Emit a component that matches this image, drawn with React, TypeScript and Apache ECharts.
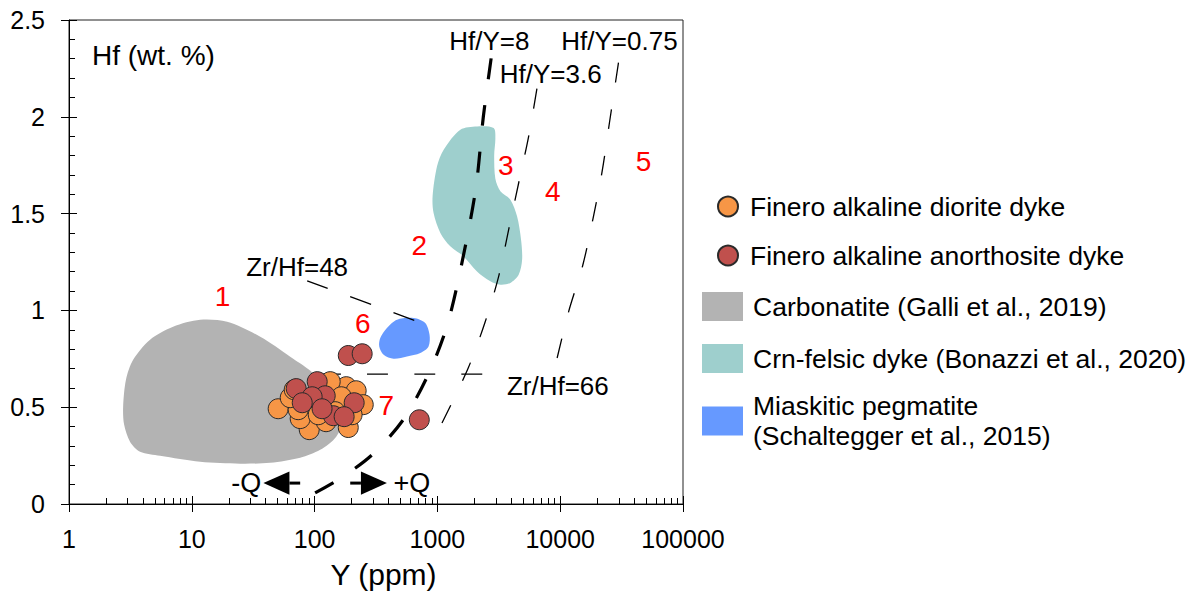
import { useEffect, useRef } from 'react';
import * as echarts from 'echarts';

const FONT = '"Liberation Sans", Arial, Helvetica, sans-serif';

// Axis tick labels
const xTickLabels = ['1', '10', '100', '1000', '10000', '100000'];
const yTickLabels = ['0', '0.5', '1', '1.5', '2', '2.5'];

// Series names
const DIORITE = 'Finero alkaline diorite dyke';
const ANORTH = 'Finero alkaline anorthosite dyke';
const CARB = 'Carbonatite (Galli et al., 2019)';
const CRN = 'Crn-felsic dyke (Bonazzi et al., 2020)';
const MIAS = 'Miaskitic pegmatite (Schaltegger et al., 2015)';

// Samples: [Y ppm, Hf wt.%]
const dioriteDyke: number[][] = [
  [50.5, 0.492], [90.4, 0.384], [188, 0.395], [181, 0.606], [218, 0.585],
  [249, 0.513], [134, 0.632], [165, 0.554], [124, 0.425], [76.3, 0.441],
  [73.5, 0.487], [63.3, 0.549], [107, 0.461], [147, 0.477], [202, 0.461],
  [83.8, 0.539], [68.2, 0.59],
];
const anorthositeDyke: number[][] = [
  [105, 0.632], [70.8, 0.596], [122, 0.559], [95.5, 0.554], [79.3, 0.523],
  [210, 0.523], [142, 0.456], [174, 0.451], [115, 0.492], [188, 0.767],
  [244, 0.776], [712, 0.435],
];

// Field outlines: [Y ppm, Hf wt.%]
const carbonatiteOutline: number[][] = [
  [2.76, 0.503], [2.91, 0.642], [3.33, 0.745], [4.57, 0.849], [7.04, 0.916],
  [11.7, 0.952], [19.4, 0.941], [36.1, 0.864], [63.3, 0.761], [101, 0.668],
  [147, 0.539], [168, 0.435], [150, 0.348], [111, 0.28], [76.3, 0.239],
  [43.5, 0.213], [24.8, 0.208], [11.7, 0.218], [5.52, 0.249], [3.79, 0.27],
  [3.14, 0.322], [2.81, 0.41],
];
const crnFelsicOutline: number[][] = [
  [1538, 1.933], [2102, 1.95], [2872, 1.942], [2965, 1.89], [2900, 1.8],
  [2965, 1.68], [3258, 1.615], [3928, 1.572], [4453, 1.486], [4800, 1.365],
  [4895, 1.261], [4590, 1.184], [3928, 1.142], [3258, 1.133], [2700, 1.15],
  [2102, 1.201], [1633, 1.279], [1273, 1.331], [1057, 1.4], [931, 1.503],
  [914, 1.589], [993, 1.744], [1125, 1.83],
];
const pegmatiteOutline: number[][] = [
  [342.5, 0.857], [388, 0.909], [469, 0.952], [640, 0.961], [796, 0.935],
  [863, 0.874], [847, 0.814], [726, 0.78], [565, 0.762], [440, 0.75],
  [365, 0.771], [336, 0.814],
];

// Reference lines
const hfY8: number[][] = [
  [101, 0.057], [160, 0.13], [295, 0.255], [527, 0.435], [827, 0.658], [1160, 0.892],
  [1452, 1.133], [2037, 1.613], [2366, 2.0], [2750, 2.31],
];
const hfY36: number[][] = [
  [1090, 0.418], [1786, 0.704], [2455, 0.943], [3155, 1.176], [3805, 1.417],
  [4590, 1.658], [5535, 1.899], [6480, 2.15],
];
const hfY075: number[][] = [
  [9440, 0.754], [11730, 0.995], [15250, 1.232], [18540, 1.477], [21950, 1.718],
  [25160, 1.968], [30360, 2.312],
];
const zrHf48: number[][] = [[87, 1.153], [725, 0.937]];
const zrHf66: number[][] = [[111, 0.671], [2455, 0.671]];

// Annotations
const lineLabelText = ['Hf/Y=8', 'Hf/Y=3.6', 'Hf/Y=0.75', 'Zr/Hf=48', 'Zr/Hf=66'];
const lineLabelAt: number[][] = [[2649, 2.393], [8370, 2.223], [30360, 2.393], [72.1, 1.223], [9570, 0.611]];
const qLabelText = ['-Q', '+Q'];
const qLabelAt: number[][] = [[27.7, 0.108], [621, 0.108]];
const fieldNumbers = ['1', '2', '3', '4', '5', '6', '7'];
const fieldNumberAt: number[][] = [
  [17.8, 1.072], [712, 1.334], [3606, 1.747], [8720, 1.615], [47650, 1.77], [247, 0.931], [383, 0.508],
];
const arrowTips: number[][] = [[38.3, 0.108], [388, 0.108]];
const arrowTails: number[][] = [[76.3, 0.108], [195, 0.108]];

const COLORS = {
  diorite: '#f79646',
  anorth: '#c0504d',
  carb: '#b3b3b3',
  crn: '#9ecfcd',
  mias: '#6699ff',
};

function polygonSeries(name: string, outline: number[][], color: string) {
  return {
    type: 'custom',
    name,
    coordinateSystem: 'cartesian2d',
    xAxisIndex: 0,
    yAxisIndex: 0,
    data: [outline[0]],
    itemStyle: { color },
    silent: true,
    z: 1,
    renderItem: (_params: any, api: any) => ({
      type: 'polygon',
      shape: { points: outline.map((p) => api.coord(p)), smooth: 0.3 },
      style: { fill: color, stroke: 'none' },
    }),
  };
}

function refLine(data: number[][], width: number, dash: number[]) {
  return {
    type: 'line',
    data,
    xAxisIndex: 0,
    yAxisIndex: 0,
    showSymbol: false,
    symbol: 'none',
    smooth: 0.3,
    silent: true,
    z: 2,
    lineStyle: { color: '#000', width, type: dash },
  };
}

function textSeries(texts: string[], at: number[][], size: number, color: string) {
  return {
    type: 'custom',
    coordinateSystem: 'cartesian2d',
    xAxisIndex: 0,
    yAxisIndex: 0,
    data: at,
    silent: true,
    z: 6,
    renderItem: (params: any, api: any) => {
      const p = api.coord([api.value(0), api.value(1)]);
      return {
        type: 'text',
        x: p[0],
        y: p[1],
        style: {
          text: texts[params.dataIndex],
          fill: color,
          fontSize: size,
          fontFamily: FONT,
          align: 'center',
          verticalAlign: 'middle',
        },
      };
    },
  };
}

const xAxisBase = {
  type: 'log',
  logBase: 10,
  min: 1,
  max: 100000,
  gridIndex: 0,
  position: 'bottom',
  offset: 0,
  splitLine: { show: false },
  minorSplitLine: { show: false },
};
const yAxisBase = {
  type: 'value',
  min: 0,
  max: 2.5,
  interval: 0.5,
  gridIndex: 0,
  position: 'left',
  offset: 0,
  splitLine: { show: false },
  minorSplitLine: { show: false },
};

export default function App() {
  const ref = useRef<HTMLDivElement>(null);
  useEffect(() => {
    if (!ref.current) return;
    const chart = echarts.init(ref.current, null, { renderer: 'svg' });
    const legendText = { fontSize: 26.5, color: '#000', fontFamily: FONT };
    chart.setOption({
      animation: false,
      backgroundColor: '#fff',
      grid: {
        left: 69,
        right: 511,
        top: 20,
        bottom: 89,
        show: true,
        borderColor: '#222',
        borderWidth: 1,
        backgroundColor: 'transparent',
        containLabel: false,
        outerBoundsMode: 'none',
      },
      xAxis: [
        {
          ...xAxisBase,
          name: 'Y (ppm)',
          nameLocation: 'middle',
          nameGap: 55,
          nameTextStyle: { fontSize: 30, color: '#000', fontFamily: FONT, padding: [0, 0, 0, 15] },
          axisLine: { show: true, lineStyle: { color: '#000', width: 1 } },
          axisTick: { show: true, inside: false, length: 8, lineStyle: { color: '#000', width: 1 } },
          axisLabel: {
            show: true,
            fontSize: 25,
            color: '#000',
            fontFamily: FONT,
            margin: 22,
            formatter: (v: number) => xTickLabels[Math.round(Math.log10(v))] ?? '',
          },
        },
        {
          ...xAxisBase,
          axisLine: { show: false },
          axisLabel: { show: false },
          axisTick: { show: true, inside: true, length: 8, lineStyle: { color: '#000', width: 1 } },
          minorTick: { show: true, splitNumber: 9, length: 6, lineStyle: { color: '#000', width: 1 } },
        },
      ],
      yAxis: [
        {
          ...yAxisBase,
          name: 'Hf (wt. %)',
          nameLocation: 'end',
          nameGap: -35,
          nameTextStyle: {
            fontSize: 28,
            color: '#000',
            fontFamily: FONT,
            align: 'left',
            verticalAlign: 'middle',
            padding: [0, 0, 0, 23],
          },
          axisLine: { show: true, lineStyle: { color: '#000', width: 1 } },
          axisTick: { show: true, inside: false, length: 8, lineStyle: { color: '#000', width: 1 } },
          axisLabel: {
            show: true,
            fontSize: 25,
            color: '#000',
            fontFamily: FONT,
            margin: 24,
            formatter: (v: number) => yTickLabels[Math.round(v * 2)] ?? '',
          },
        },
        {
          ...yAxisBase,
          axisLine: { show: false },
          axisLabel: { show: false },
          axisTick: { show: true, inside: true, length: 8, lineStyle: { color: '#000', width: 1 } },
          minorTick: { show: true, splitNumber: 5, length: 6, lineStyle: { color: '#000', width: 1 } },
        },
      ],
      legend: [
        {
          data: [
            { name: DIORITE, icon: 'circle' },
            { name: ANORTH, icon: 'circle' },
          ],
          orient: 'vertical',
          left: 717,
          top: 193,
          itemWidth: 30,
          itemHeight: 20,
          itemGap: 22,
          padding: 0,
          selectedMode: false,
          textStyle: { ...legendText, padding: [0, 0, 0, 2] },
        },
        {
          data: [
            { name: CARB, icon: 'rect' },
            { name: CRN, icon: 'rect' },
          ],
          orient: 'vertical',
          left: 702,
          top: 292,
          itemWidth: 41,
          itemHeight: 29,
          itemGap: 23,
          padding: 0,
          selectedMode: false,
          textStyle: { ...legendText, padding: [0, 0, 0, 5] },
        },
        {
          data: [{ name: MIAS, icon: 'rect' }],
          orient: 'vertical',
          left: 702,
          top: 391,
          itemWidth: 41,
          itemHeight: 29,
          padding: 0,
          selectedMode: false,
          formatter: () => 'Miaskitic pegmatite\n(Schaltegger et al., 2015)',
          textStyle: { ...legendText, lineHeight: 30, padding: [0, 0, 0, 5] },
        },
      ],
      series: [
        polygonSeries(CARB, carbonatiteOutline, COLORS.carb),
        polygonSeries(CRN, crnFelsicOutline, COLORS.crn),
        polygonSeries(MIAS, pegmatiteOutline, COLORS.mias),
        refLine(hfY8, 3.2, [21, 26]),
        refLine(hfY36, 1.3, [20, 27]),
        refLine(hfY075, 1.3, [20, 27]),
        refLine(zrHf48, 1.3, [22, 24]),
        refLine(zrHf66, 1.3, [21, 26]),
        {
          type: 'scatter',
          name: DIORITE,
          data: dioriteDyke,
          symbolSize: 20,
          z: 3,
          itemStyle: { color: COLORS.diorite, borderColor: '#2a2a2a', borderWidth: 1, opacity: 1 },
        },
        {
          type: 'scatter',
          name: ANORTH,
          data: anorthositeDyke,
          symbolSize: 20,
          z: 4,
          itemStyle: { color: COLORS.anorth, borderColor: '#2a2a2a', borderWidth: 1, opacity: 1 },
        },
        {
          type: 'custom',
          coordinateSystem: 'cartesian2d',
          xAxisIndex: 0,
          yAxisIndex: 0,
          data: arrowTips,
          silent: true,
          z: 5,
          renderItem: (params: any, api: any) => {
            const tip = api.coord(arrowTips[params.dataIndex]);
            const tail = api.coord(arrowTails[params.dataIndex]);
            const dx = tip[0] - tail[0];
            const dy = tip[1] - tail[1];
            const len = Math.sqrt(dx * dx + dy * dy) || 1;
            const ux = dx / len;
            const uy = dy / len;
            const headLen = 26;
            const halfW = 11.7;
            const bx = tip[0] - ux * headLen;
            const by = tip[1] - uy * headLen;
            return {
              type: 'group',
              children: [
                {
                  type: 'line',
                  shape: { x1: tail[0], y1: tail[1], x2: bx, y2: by },
                  style: { stroke: '#000', lineWidth: 3 },
                },
                {
                  type: 'polygon',
                  shape: {
                    points: [
                      [tip[0], tip[1]],
                      [bx - uy * halfW, by + ux * halfW],
                      [bx + uy * halfW, by - ux * halfW],
                    ],
                  },
                  style: { fill: '#000' },
                },
              ],
            };
          },
        },
        textSeries(lineLabelText, lineLabelAt, 26, '#000'),
        textSeries(qLabelText, qLabelAt, 27, '#000'),
        textSeries(fieldNumbers, fieldNumberAt, 28, '#ff0000'),
      ],
    });
    return () => chart.dispose();
  }, []);
  return (
    <div
      ref={ref}
      style={{ position: 'fixed', left: 0, top: 0, width: 1194, height: 593, background: '#fff' }}
    />
  );
}
